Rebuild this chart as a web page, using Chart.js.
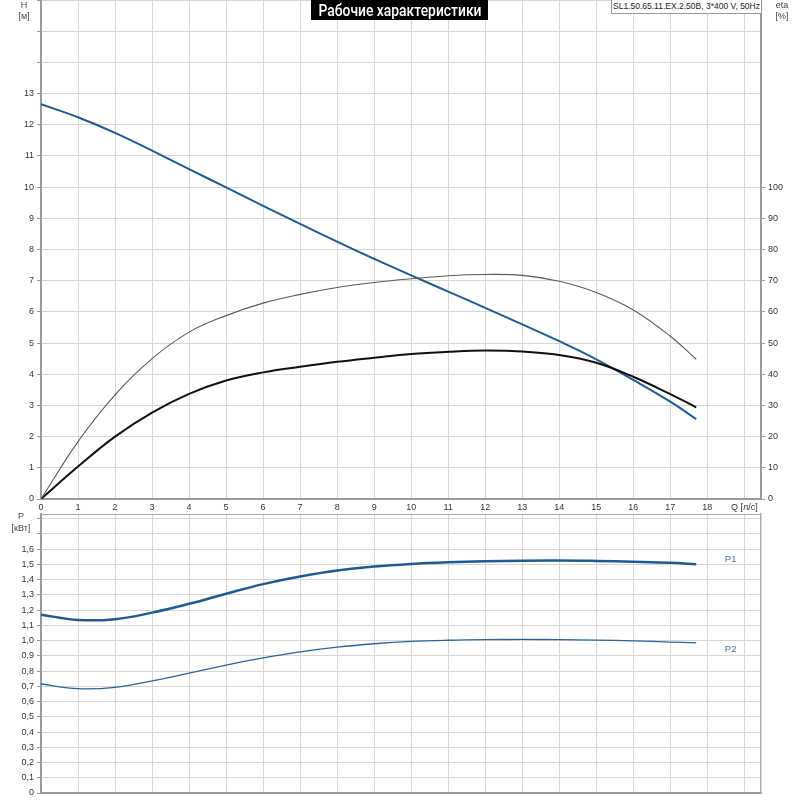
<!DOCTYPE html>
<html><head><meta charset="utf-8">
<script src="https://cdn.jsdelivr.net/npm/chart.js@4"></script>
<style>
html,body{margin:0;padding:0;background:#fff;width:800px;height:800px;overflow:hidden;font-family:"Liberation Sans",Arial,sans-serif}
#w1{position:absolute;left:0;top:0;width:800px;height:520px}
#w2{position:absolute;left:0;top:505px;width:800px;height:295px}
.t{position:absolute;color:#444;font-size:9px;text-align:center;width:30px;line-height:10px}
#title{position:absolute;left:311px;top:0;width:177px;height:20px;background:#000;color:#fff;z-index:5;overflow:hidden}
#title span{position:absolute;left:50%;top:0;white-space:nowrap;line-height:20px;font:500 17px Roboto,sans-serif;transform-origin:center center}
#model{position:absolute;left:611px;top:-1px;width:149px;height:13px;border:1px solid #999;background:#fff;color:#222;font-size:8.5px;line-height:13px;text-align:center;z-index:5;white-space:nowrap}
</style></head>
<body>
<div id="w1"><canvas id="c1"></canvas></div>
<div id="w2"><canvas id="c2"></canvas></div>
<div id="title"><span id="tt">Рабочие характеристики</span></div>
<div id="model">SL1.50.65.11.EX.2.50B, 3*400 V, 50Hz</div>
<div class="t" style="left:9px;top:0px">H</div>
<div class="t" style="left:9px;top:11px">[м]</div>
<div class="t" style="left:767px;top:0px">eta</div>
<div class="t" style="left:767px;top:11px">[%]</div>
<div class="t" style="left:6px;top:511px">P</div>
<div class="t" style="left:6px;top:523px">[кВт]</div>
<script>
// Flow rate, l/s
const flowQ = [0,1,2,3,4,5,6,7,8,9,10,11,12,13,14,15,16,17,17.7];
// Head, m
const headH = [12.66,12.24,11.74,11.17,10.58,9.99,9.40,8.82,8.25,7.70,7.17,6.65,6.13,5.60,5.06,4.48,3.82,3.12,2.56];
// Efficiencies, %
const etaHydraulic = [0,18.4,33.4,45,53.5,58.8,62.8,65.6,67.8,69.4,70.6,71.6,72.0,71.7,69.8,66.2,60.6,52.2,44.8];
const etaTotal = [0,10.4,20,27.7,33.7,38,40.6,42.4,44,45.3,46.5,47.2,47.6,47.3,46.2,43.7,39.2,33.6,29.4];
// Power, kW
const powerP1 = [1.17,1.135,1.14,1.183,1.241,1.307,1.37,1.42,1.459,1.485,1.502,1.513,1.52,1.524,1.525,1.522,1.517,1.51,1.50];
const powerP2 = [0.715,0.684,0.693,0.735,0.786,0.839,0.886,0.926,0.957,0.979,0.994,1.002,1.006,1.007,1.006,1.003,0.998,0.99,0.985];
// Axis ticks
const qTicks = [0,1,2,3,4,5,6,7,8,9,10,11,12,13,14,15,16,17,18,19];
const qAxisTitle = 'Q [л/с]';
const hTicks = [0,1,2,3,4,5,6,7,8,9,10,11,12,13,14,15,16];
const hLabelMax = 13;
const etaTicks = [0,10,20,30,40,50,60,70,80,90,100];
const pTicks = [0,0.1,0.2,0.3,0.4,0.5,0.6,0.7,0.8,0.9,1.0,1.1,1.2,1.3,1.4,1.5,1.6,1.7,1.8];
const pLabelMax = 1.6;
const seriesNames = ['P1','P2'];
const Q_MAX = 19.45, H_MAX = 16, ETA_MAX = 160, P_MAX = 1.83;

// fit title text width
(function(){const s=document.getElementById('tt');const w=s.getBoundingClientRect().width;s.style.transform='translateX(-50%) scaleX('+(163/w)+')';})();

const pts = arr => flowQ.map((q,i)=>({x:q,y:arr[i]}));
const FONT = {family:'"Liberation Sans", Arial, sans-serif', size:9};
const GRID = '#d6d6d6', AXIS = '#9a9a9a';
const fix = (w,h)=>s=>{ if(w!=null) s.width=w; if(h!=null) s.height=h; s.paddingTop=0; s.paddingBottom=0; s.paddingLeft=0; s.paddingRight=0; };
const setTicks = vals => s => { s.ticks = vals.map(v=>({value:v})); };
Chart.defaults.animation = false;
Chart.defaults.font.family = FONT.family;

const lineDs = (data,color,w,axis)=>({data,borderColor:color,borderWidth:w,pointRadius:0,fill:false,tension:0.4,yAxisID:axis});

new Chart(document.getElementById('c1'),{
  type:'line',
  data:{datasets:[
    lineDs(pts(etaHydraulic),'#5a5a5a',1.1,'y2'),
    lineDs(pts(etaTotal),'#111111',2,'y2'),
    lineDs(pts(headH),'#1f5a96',2,'y'),
  ]},
  options:{
    responsive:true,maintainAspectRatio:false,
    layout:{padding:0},
    plugins:{legend:{display:false},tooltip:{enabled:false}},
    scales:{
      x:{type:'linear',min:0,max:Q_MAX,
        afterBuildTicks:setTicks(qTicks.concat([Q_MAX])),
        ticks:{autoSkip:false,maxRotation:0,font:FONT,color:'#333',padding:3,
          callback:v=> v===19 ? qAxisTitle : (qTicks.includes(v)? String(v):'')},
        grid:{color:GRID,lineWidth:1,drawTicks:false},
        border:{color:AXIS,width:2},
        afterFit:fix(null,21)},
      y:{type:'linear',position:'left',min:0,max:H_MAX,
        afterBuildTicks:setTicks(hTicks),
        ticks:{autoSkip:false,font:FONT,color:'#333',padding:3,
          callback:v=> (v<=hLabelMax)? String(v):''},
        grid:{color:GRID,lineWidth:1,drawTicks:true,tickLength:4,tickColor:AXIS},
        border:{color:AXIS,width:2},
        afterFit:fix(41,null)},
      y2:{type:'linear',position:'right',min:0,max:ETA_MAX,
        afterBuildTicks:setTicks(etaTicks),
        ticks:{autoSkip:false,font:FONT,color:'#333',padding:3,callback:v=>String(v)},
        grid:{drawOnChartArea:false,drawTicks:true,tickLength:4,tickColor:AXIS},
        border:{color:AXIS,width:2},
        afterFit:fix(39,null)}
    }
  }
});

const seriesLabels = {id:'seriesLabels',afterDatasetsDraw(chart){
  const {ctx,scales:{x,y}} = chart;
  ctx.save();
  ctx.font = '9.5px "Liberation Sans", Arial, sans-serif';
  ctx.fillStyle = '#46709f';
  ctx.textAlign='center'; ctx.textBaseline='middle';
  const lx = x.getPixelForValue(18.63);
  ctx.fillText(seriesNames[0], lx, y.getPixelForValue(powerP1[powerP1.length-1]) - 5);
  ctx.fillText(seriesNames[1], lx, y.getPixelForValue(powerP2[powerP2.length-1]) + 6.5);
  ctx.restore();
}};

new Chart(document.getElementById('c2'),{
  type:'line',
  data:{datasets:[
    lineDs(pts(powerP1),'#1f5a96',2.5,'y'),
    lineDs(pts(powerP2),'#2c639c',1.3,'y'),
  ]},
  plugins:[seriesLabels],
  options:{
    responsive:true,maintainAspectRatio:false,
    layout:{padding:{top:9,left:0,right:0,bottom:0}},
    plugins:{legend:{display:false},tooltip:{enabled:false}},
    scales:{
      x:{type:'linear',min:0,max:Q_MAX,
        afterBuildTicks:setTicks(qTicks),
        ticks:{display:false},
        grid:{color:GRID,lineWidth:1,drawTicks:false},
        border:{color:AXIS,width:2},
        afterFit:fix(null,7)},
      y:{type:'linear',position:'left',min:0,max:P_MAX,
        afterBuildTicks:setTicks(pTicks.concat([P_MAX])),
        ticks:{autoSkip:false,font:FONT,color:'#333',padding:3,
          callback:v=>{ if(v>pLabelMax+1e-6) return ''; const r=Math.round(v*10)/10; return r===0?'0':r.toFixed(1).replace('.',','); }},
        grid:{color:c=> (c.tick && c.tick.value>1.81)? '#aaaaaa':GRID,lineWidth:1,drawTicks:true,tickLength:4,
          tickColor:c=> (c.tick && c.tick.value>1.81)? 'rgba(0,0,0,0)':AXIS},
        border:{color:AXIS,width:2},
        afterFit:fix(41,null)},
      y2:{type:'linear',position:'right',min:0,max:P_MAX,display:true,
        afterBuildTicks:setTicks([]),
        ticks:{display:false},
        grid:{drawOnChartArea:false,drawTicks:false},
        border:{color:'#aaaaaa',width:1.5},
        afterFit:fix(39,null)}
    }
  }
});
</script>
</body></html>
